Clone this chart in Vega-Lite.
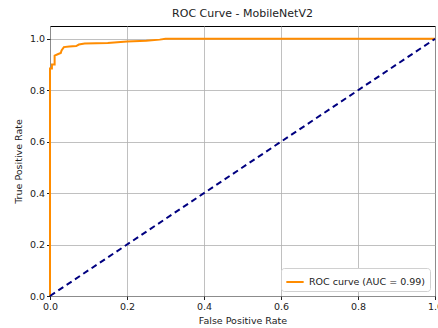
{
  "$schema": "https://vega.github.io/schema/vega-lite/v6.json",
  "width": 385,
  "height": 270,
  "autosize": {"type": "none"},
  "padding": {"left": 50, "top": 26, "right": 3, "bottom": 32},
  "background": "white",
  "title": {"text": "ROC Curve - MobileNetV2", "font": "DejaVu Sans", "fontSize": 11, "fontWeight": "normal", "color": "#222", "offset": 7},
  "config": {
    "view": {"stroke": "black", "strokeWidth": 1},
    "axis": {"labelFont": "DejaVu Sans", "titleFont": "DejaVu Sans", "labelFontSize": 9.5, "titleFontSize": 9.5, "titleFontWeight": "normal", "labelColor": "#222", "titleColor": "#222", "grid": true, "gridColor": "#b0b0b0", "gridWidth": 0.8, "domain": false, "tickColor": "#222", "tickSize": 3.5, "labelPadding": 2, "labelFlush": false, "labelOverlap": false}
  },
  "datasets": {
    "roc": [
      {"fpr": 0.0, "tpr": 0.0, "s": "ROC curve (AUC = 0.99)"},
      {"fpr": 0.0, "tpr": 0.82, "s": "ROC curve (AUC = 0.99)"},
      {"fpr": 0.0, "tpr": 0.885, "s": "ROC curve (AUC = 0.99)"},
      {"fpr": 0.005, "tpr": 0.885, "s": "ROC curve (AUC = 0.99)"},
      {"fpr": 0.005, "tpr": 0.9, "s": "ROC curve (AUC = 0.99)"},
      {"fpr": 0.012, "tpr": 0.9, "s": "ROC curve (AUC = 0.99)"},
      {"fpr": 0.012, "tpr": 0.935, "s": "ROC curve (AUC = 0.99)"},
      {"fpr": 0.02, "tpr": 0.94, "s": "ROC curve (AUC = 0.99)"},
      {"fpr": 0.028, "tpr": 0.945, "s": "ROC curve (AUC = 0.99)"},
      {"fpr": 0.03, "tpr": 0.955, "s": "ROC curve (AUC = 0.99)"},
      {"fpr": 0.036, "tpr": 0.968, "s": "ROC curve (AUC = 0.99)"},
      {"fpr": 0.05, "tpr": 0.97, "s": "ROC curve (AUC = 0.99)"},
      {"fpr": 0.068, "tpr": 0.972, "s": "ROC curve (AUC = 0.99)"},
      {"fpr": 0.075, "tpr": 0.978, "s": "ROC curve (AUC = 0.99)"},
      {"fpr": 0.09, "tpr": 0.982, "s": "ROC curve (AUC = 0.99)"},
      {"fpr": 0.15, "tpr": 0.984, "s": "ROC curve (AUC = 0.99)"},
      {"fpr": 0.2, "tpr": 0.99, "s": "ROC curve (AUC = 0.99)"},
      {"fpr": 0.25, "tpr": 0.993, "s": "ROC curve (AUC = 0.99)"},
      {"fpr": 0.285, "tpr": 0.997, "s": "ROC curve (AUC = 0.99)"},
      {"fpr": 0.3, "tpr": 1.0, "s": "ROC curve (AUC = 0.99)"},
      {"fpr": 1.0, "tpr": 1.0, "s": "ROC curve (AUC = 0.99)"}
    ],
    "diag": [
      {"fpr": 0.0, "tpr": 0.0},
      {"fpr": 1.0, "tpr": 1.0}
    ]
  },
  "layer": [
    {
      "data": {"name": "roc"},
      "mark": {"type": "line", "strokeWidth": 2},
      "encoding": {
        "x": {"field": "fpr", "type": "quantitative", "scale": {"domain": [0, 1], "nice": false, "zero": false}, "axis": {"title": "False Positive Rate", "values": [0, 0.2, 0.4, 0.6, 0.8, 1.0], "format": ".1f", "titlePadding": 4}},
        "y": {"field": "tpr", "type": "quantitative", "scale": {"domain": [0, 1.05], "nice": false, "zero": false}, "axis": {"title": "True Positive Rate", "values": [0, 0.2, 0.4, 0.6, 0.8, 1.0], "format": ".1f", "titlePadding": 6}},
        "order": {"field": "fpr"},
        "color": {"field": "s", "type": "nominal", "scale": {"domain": ["ROC curve (AUC = 0.99)"], "range": ["#ff8c00"]},
          "legend": {"title": null, "orient": "bottom-right", "symbolType": "stroke", "symbolStrokeWidth": 2, "symbolSize": 300, "labelFont": "DejaVu Sans", "labelFontSize": 9.5, "labelColor": "#222", "strokeColor": "#d0d0d0", "fillColor": "white", "cornerRadius": 3, "padding": 4, "offset": 5}}
      }
    },
    {
      "data": {"name": "diag"},
      "mark": {"type": "line", "color": "#000080", "strokeWidth": 2, "strokeDash": [6, 4]},
      "encoding": {
        "x": {"field": "fpr", "type": "quantitative"},
        "y": {"field": "tpr", "type": "quantitative"}
      }
    }
  ]
}
